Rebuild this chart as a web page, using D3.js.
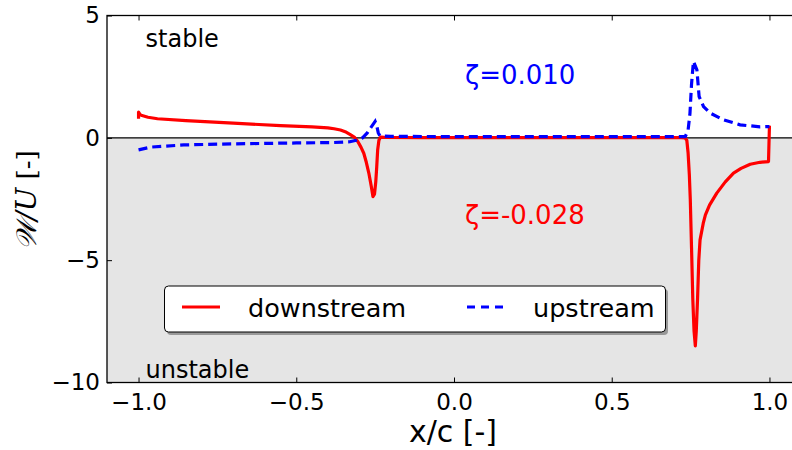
<!DOCTYPE html>
<html lang="en">
<head>
<meta charset="UTF-8">
<title>W/U stability</title>
<style>
  body { margin: 0; background: #fff; }
  svg text { font-family: "DejaVu Sans", sans-serif; }
</style>
</head>
<body>
<div id="chart"></div>
<script src="https://d3js.org/d3.v7.min.js"></script>
<script>
// downstream (red, solid)
var downX = [-1.0, -1.0, -0.995, -0.989, -0.97, -0.94, -0.85, -0.70, -0.55, -0.45, -0.40, -0.38, -0.36, -0.345,
  -0.33, -0.315, -0.305, -0.295, -0.286, -0.278, -0.27, -0.262, -0.257, -0.252, -0.248, -0.245, -0.242, -0.238,
  -0.233, -0.22, -0.1, 0.2, 0.5, 0.72, 0.732, 0.738, 0.742, 0.746, 0.749, 0.753, 0.757, 0.761, 0.765, 0.768,
  0.772, 0.776, 0.78, 0.79, 0.797, 0.81, 0.833, 0.86, 0.886, 0.91, 0.939, 0.97, 0.997, 1.0];
var downY = [0.78, 1.05, 0.95, 0.91, 0.84, 0.78, 0.70, 0.60, 0.50, 0.45, 0.41, 0.37, 0.32, 0.25,
  0.14, 0.02, -0.15, -0.38, -0.63, -1.0, -1.44, -2.0, -2.4, -2.3, -1.8, -1.2, -0.5, -0.1,
  0.03, 0.02, 0.01, 0.01, 0.01, 0.01, 0.0, -0.1, -0.6, -1.5, -2.5, -4.5, -6.6, -7.9, -8.5, -7.9,
  -6.6, -5.0, -4.17, -3.5, -3.15, -2.75, -2.26, -1.8, -1.44, -1.25, -1.08, -1.0, -0.97, 0.5];

// upstream (blue, dashed)
var upX = [-1.0, -0.962, -0.857, -0.70, -0.50, -0.38, -0.33, -0.31, -0.29, -0.275, -0.262, -0.25, -0.245,
  -0.24, -0.235, -0.2, 0.0, 0.5, 0.733, 0.742, 0.748, 0.753, 0.759, 0.77, 0.777, 0.791, 0.812, 0.854,
  0.907, 0.97, 1.0];
var upY = [-0.49, -0.38, -0.29, -0.245, -0.21, -0.19, -0.16, -0.1, 0.0, 0.2, 0.45, 0.67, 0.5,
  0.2, 0.08, 0.06, 0.05, 0.05, 0.05, 0.3, 1.0, 2.2, 3.12, 2.78, 1.69, 1.28, 1.01, 0.74,
  0.53, 0.45, 0.46];

var xTicks = [-1.0, -0.5, 0.0, 0.5, 1.0];
var yTicks = [5, 0, -5, -10];
var seriesNames = ["downstream", "upstream"];
var zetaLabels = ["ζ=0.010", "ζ=-0.028"];

var W = 792, H = 450;
var margin = {top: 15.5, left: 107, right: -9, bottom: 67.5};
var pw = W - margin.left - margin.right;
var ph = H - margin.top - margin.bottom;

var svg = d3.select("#chart").append("svg")
  .attr("width", W).attr("height", H);

var g = svg.append("g")
  .attr("transform", "translate(" + margin.left + "," + margin.top + ")");

var x = d3.scaleLinear().domain([-1.1, 1.1]).range([0, pw]);
var y = d3.scaleLinear().domain([-10, 5]).range([ph, 0]);

g.append("clipPath").attr("id", "clip")
  .append("rect").attr("width", pw).attr("height", ph);

// unstable region shading
g.append("rect")
  .attr("x", 0).attr("y", y(0))
  .attr("width", pw).attr("height", y(-10) - y(0))
  .attr("fill", "#e5e5e5");

g.append("line")
  .attr("x1", 0).attr("x2", pw)
  .attr("y1", y(0)).attr("y2", y(0))
  .attr("stroke", "#000").attr("stroke-width", 1.3);

var line = d3.line().x(d => x(d[0])).y(d => y(d[1]));

var downData = downX.map((v, i) => [v, downY[i]]);
var upData = upX.map((v, i) => [v, upY[i]]);

var plot = g.append("g").attr("clip-path", "url(#clip)");
plot.append("path").datum(downData)
  .attr("d", line)
  .attr("fill", "none").attr("stroke", "#ff0000")
  .attr("stroke-width", 3.2).attr("stroke-linejoin", "round");
plot.append("path").datum(upData)
  .attr("d", line)
  .attr("fill", "none").attr("stroke", "#0000ff")
  .attr("stroke-width", 3.2).attr("stroke-dasharray", "9,5");

// axes with inward ticks
var xAxis = g.append("g").attr("transform", "translate(0," + ph + ")")
  .call(d3.axisBottom(x).tickValues(xTicks).tickSizeInner(-5).tickSizeOuter(0)
    .tickPadding(11).tickFormat(d => d3.format(".1f")(d).replace("-", "\u2212")));
var xTop = g.append("g")
  .call(d3.axisTop(x).tickValues(xTicks).tickSizeInner(-5).tickSizeOuter(0).tickFormat(""));
var yAxis = g.append("g")
  .call(d3.axisLeft(y).tickValues(yTicks).tickSizeInner(-5).tickSizeOuter(0)
    .tickPadding(7).tickFormat(d => String(d).replace("-", "\u2212")));

[xAxis, xTop, yAxis].forEach(a => {
  a.select(".domain").remove();
  a.selectAll(".tick line").attr("stroke", "#000").attr("stroke-width", 1);
  a.selectAll("text").attr("font-size", 23).attr("fill", "#000")
    .attr("font-family", "DejaVu Sans");
});

// frame
g.append("rect").attr("width", pw).attr("height", ph)
  .attr("fill", "none").attr("stroke", "#000").attr("stroke-width", 1.3);

// annotations
g.append("text").attr("x", x(-1.0) + 7).attr("y", 47 - margin.top)
  .attr("font-size", 24).text("stable");
g.append("text").attr("x", x(-1.0) + 7).attr("y", 378 - margin.top)
  .attr("font-size", 24).text("unstable");
g.append("text").attr("x", 465 - margin.left).attr("y", 84 - margin.top)
  .attr("font-size", 26).attr("fill", "#0000ff").text(zetaLabels[0]);
g.append("text").attr("x", 465 - margin.left).attr("y", 224 - margin.top)
  .attr("font-size", 26).attr("fill", "#ff0000").text(zetaLabels[1]);

// axis labels
svg.append("text").attr("x", 453).attr("y", 442)
  .attr("text-anchor", "middle").attr("font-size", 30).text("x/c [-]");
var yl = svg.append("text")
  .attr("transform", "translate(36,200) rotate(-90)")
  .attr("text-anchor", "middle").attr("font-size", 28)
  .style("font-family", "'DejaVu Serif', serif");
yl.append("tspan").attr("font-style", "italic").text("𝒲/𝑈");
yl.append("tspan").attr("font-size", 26).text(" [-]");

// legend
var lg = svg.append("g");
lg.append("rect").attr("x", 167).attr("y", 289).attr("width", 501).attr("height", 46)
  .attr("rx", 4).attr("fill", "#999");
lg.append("rect").attr("x", 164.5).attr("y", 286).attr("width", 501).attr("height", 46)
  .attr("rx", 4).attr("fill", "#fff").attr("stroke", "#000").attr("stroke-width", 1);
lg.append("line").attr("x1", 182).attr("x2", 220).attr("y1", 307).attr("y2", 307)
  .attr("stroke", "#ff0000").attr("stroke-width", 3.2);
lg.append("text").attr("x", 248).attr("y", 317).attr("font-size", 25.5).text(seriesNames[0]);
lg.append("line").attr("x1", 467).attr("x2", 504).attr("y1", 307).attr("y2", 307)
  .attr("stroke", "#0000ff").attr("stroke-width", 3.2).attr("stroke-dasharray", "8,6");
lg.append("text").attr("x", 533).attr("y", 317).attr("font-size", 25.5).text(seriesNames[1]);
</script>
</body>
</html>
